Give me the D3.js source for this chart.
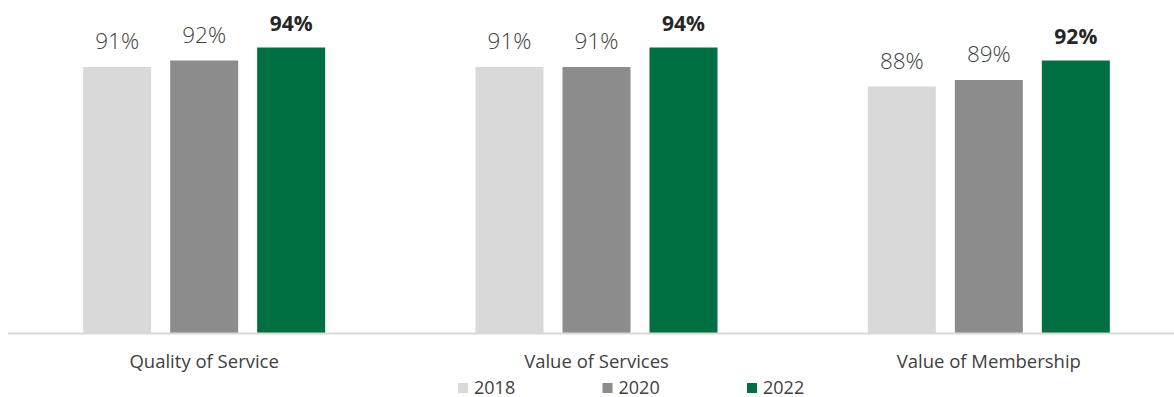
<!DOCTYPE html>
<html>
<head>
<meta charset="utf-8">
<script src="https://cdn.jsdelivr.net/npm/d3@7"></script>
<style>
  html, body { margin: 0; padding: 0; background: #fff; }
  svg { display: block; font-family: "Open Sans", sans-serif; }
</style>
</head>
<body>
<svg id="chart" width="1174" height="397"></svg>
<script>
// Survey results by measure and survey year
const categories = ["Quality of Service", "Value of Services", "Value of Membership"];
const years = ["2018", "2020", "2022"];
const values2018 = [91, 91, 88];
const values2020 = [92, 91, 89];
const values2022 = [94, 94, 92];
const colors = ["#d9d9d9", "#8c8c8c", "#007042"];

const series = [values2018, values2020, values2022];

const svg = d3.select("#chart");
const baseY = 333.5;

const y = d3.scaleLinear().domain([50, 100]).range([baseY, 8.5]);

const x0 = d3.scaleBand().domain(categories).range([8, 1185]);
const groupW = 242;
const x1 = d3.scaleBand().domain(years).range([0, groupW]).paddingInner(19 / 87);

const groups = svg.selectAll("g.cat")
  .data(categories)
  .join("g")
  .attr("class", "cat")
  .attr("transform", d => `translate(${x0(d) + (x0.bandwidth() - groupW) / 2},0)`);

groups.each(function (cat, ci) {
  const g = d3.select(this);
  years.forEach((yr, si) => {
    const v = series[si][ci];
    g.append("rect")
      .attr("x", x1(yr))
      .attr("y", y(v))
      .attr("width", x1.bandwidth())
      .attr("height", baseY - y(v))
      .attr("fill", colors[si]);
    const bold = si === 2;
    g.append("text")
      .attr("x", x1(yr) + x1.bandwidth() / 2)
      .attr("y", y(v) - (bold ? 17 : 18))
      .attr("text-anchor", "middle")
      .attr("font-size", bold ? 21 : 22.5)
      .attr("font-weight", bold ? 700 : 300)
      .attr("fill", bold ? "#262626" : "#404040")
      .text(v + "%");
  });
});

// Category axis
const xAxis = svg.append("g").attr("transform", `translate(0,${baseY})`);
xAxis.append("line")
  .attr("x1", 8).attr("x2", 1174)
  .attr("y1", 0).attr("y2", 0)
  .attr("stroke", "#d9d9d9").attr("stroke-width", 2);
xAxis.selectAll("text")
  .data(categories)
  .join("text")
  .attr("x", d => x0(d) + x0.bandwidth() / 2)
  .attr("y", 34)
  .attr("text-anchor", "middle")
  .attr("font-size", 18.5)
  .attr("fill", "#404040")
  .text(d => d);

// Legend
const legendX = d3.scalePoint().domain(years).range([458, 747]);
const legend = svg.append("g");
const items = legend.selectAll("g")
  .data(years)
  .join("g")
  .attr("transform", d => `translate(${legendX(d)},0)`);
items.append("rect")
  .attr("x", 0).attr("y", 383)
  .attr("width", 10).attr("height", 10)
  .attr("fill", (d, i) => colors[i]);
items.append("text")
  .attr("x", 16).attr("y", 393.5)
  .attr("font-size", 18)
  .attr("fill", "#404040")
  .text(d => d);
</script>
</body>
</html>
